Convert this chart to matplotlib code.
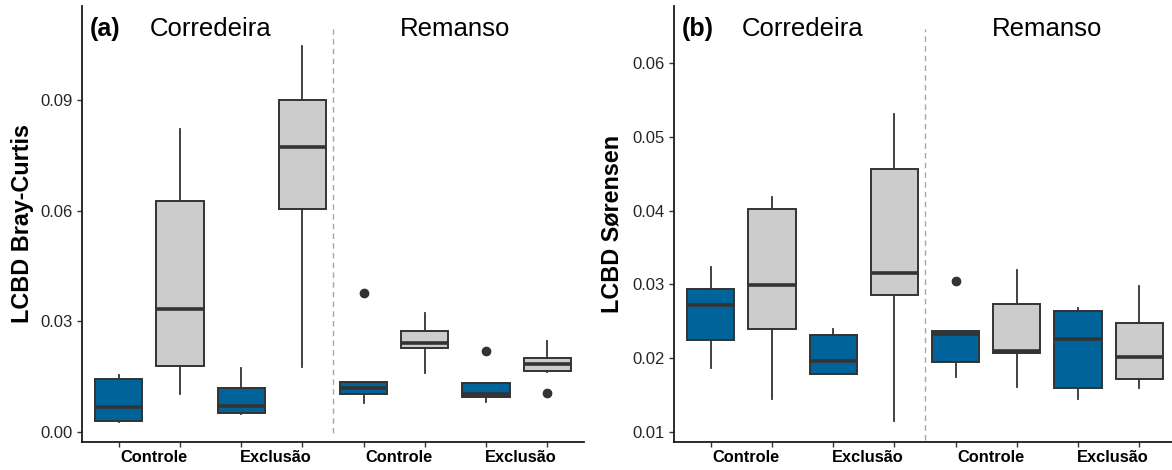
import matplotlib
matplotlib.use("Agg")
import matplotlib.pyplot as plt
import matplotlib.transforms as mtransforms

plt.rcParams['font.family'] = ['Liberation Sans', 'DejaVu Sans']

# ---- data ----
positions = [1, 2, 3, 4, 5, 6, 7, 8]
fill_colors = ['#00649a', '#cccccc'] * 4
group_labels = ['Controle', 'Exclusão', 'Controle', 'Exclusão']
habitat_labels = ['Corredeira', 'Remanso']

# Panel (a) LCBD Bray-Curtis
bc_whislo = [0.0027, 0.0103, 0.0048, 0.0177, 0.0080, 0.0159, 0.0081, 0.0163]
bc_q1     = [0.0031, 0.0180, 0.0051, 0.0604, 0.0102, 0.0227, 0.0096, 0.0165]
bc_med    = [0.0067, 0.0333, 0.0071, 0.0774, 0.0119, 0.0241, 0.0103, 0.0184]
bc_q3     = [0.0143, 0.0627, 0.0119, 0.0900, 0.0135, 0.0274, 0.0134, 0.0200]
bc_whishi = [0.0155, 0.0821, 0.0173, 0.1047, 0.0135, 0.0324, 0.0134, 0.0247]
bc_fliers = [[], [], [], [], [0.0376], [], [0.0220], [0.0105]]

# Panel (b) LCBD Sørensen
so_whislo = [0.0186, 0.0144, 0.0178, 0.0114, 0.0174, 0.0160, 0.0145, 0.0159]
so_q1     = [0.0224, 0.0239, 0.0178, 0.0286, 0.0194, 0.0207, 0.0159, 0.0171]
so_med    = [0.0272, 0.0299, 0.0196, 0.0315, 0.0232, 0.0210, 0.0226, 0.0201]
so_q3     = [0.0294, 0.0402, 0.0231, 0.0456, 0.0236, 0.0273, 0.0264, 0.0247]
so_whishi = [0.0324, 0.0418, 0.0240, 0.0531, 0.0236, 0.0319, 0.0268, 0.0298]
so_fliers = [[], [], [], [], [0.0304], [], [], []]

bc_yticks = [0.00, 0.03, 0.06, 0.09]
so_yticks = [0.01, 0.02, 0.03, 0.04, 0.05, 0.06]

W, H = 1172, 470
fig = plt.figure(figsize=(W / 100, H / 100), dpi=100)

ax_bottom = 1 - 441.7 / H
ax_height = (441.7 - 6) / H
ax_a = fig.add_axes([82 / W, ax_bottom, 502 / W, ax_height])
ax_b = fig.add_axes([674 / W, ax_bottom, 502 / W, ax_height])

edge = '#333333'


def draw_panel(ax, whislo, q1, med, q3, whishi, fliers, yticks, ylim, ylabel, tag, fmt,
               div_bottom, label_x):
    stats = []
    for i in range(len(positions)):
        stats.append(dict(whislo=whislo[i], q1=q1[i], med=med[i], q3=q3[i],
                          whishi=whishi[i], fliers=fliers[i]))
    bp = ax.bxp(stats, positions=positions, widths=0.77, patch_artist=True,
                showcaps=False, manage_ticks=False,
                boxprops=dict(edgecolor=edge, linewidth=1.4),
                medianprops=dict(color=edge, linewidth=2.6, solid_capstyle='butt'),
                whiskerprops=dict(color=edge, linewidth=1.3),
                flierprops=dict(marker='o', markerfacecolor=edge, markeredgecolor=edge,
                                markersize=6))
    for patch, c in zip(bp['boxes'], fill_colors):
        patch.set_facecolor(c)
    ax.set_xlim(0.4, 8.6)
    ax.set_ylim(*ylim)
    ax.set_xticks(positions)
    ax.set_xticklabels([''] * len(positions))
    ax.set_yticks(yticks)
    ax.set_yticklabels([fmt.format(v) for v in yticks])
    ax.tick_params(axis='both', length=3.5, width=1.0, color=edge,
                   labelsize=12, labelcolor='#262626', pad=3)
    for s in ['top', 'right']:
        ax.spines[s].set_visible(False)
    for s in ['left', 'bottom']:
        ax.spines[s].set_linewidth(1.3)
        ax.spines[s].set_color('#1a1a1a')
    ax.set_ylabel(ylabel, fontsize=16.8, fontweight='bold', color='black')
    ax.yaxis.set_label_coords(label_x, 0.5)
    trans = mtransforms.blended_transform_factory(ax.transData, ax.transAxes)
    for xpos, lab in zip([1.57, 3.57, 5.57, 7.57], group_labels):
        ax.text(xpos, -0.037, lab, transform=trans, ha='center', va='center',
                fontsize=11.8, fontweight='bold', color='black')
    ax.plot([4.5, 4.5], [div_bottom, 0.947], transform=trans, color='#a6a6a6',
            linestyle=(0, (4, 3)), linewidth=1.0, clip_on=False)
    ax.text(0.53, 0.947, tag, transform=trans, ha='left', va='center',
            fontsize=18, fontweight='bold', color='black')
    ax.text(2.5, 0.947, habitat_labels[0], transform=trans, ha='center', va='center',
            fontsize=18.5, color='black')
    ax.text(6.5, 0.947, habitat_labels[1], transform=trans, ha='center', va='center',
            fontsize=18.5, color='black')


a_lo = (432 - 441.7) / 3687
a_hi = (432 - 6) / 3687
draw_panel(ax_a, bc_whislo, bc_q1, bc_med, bc_q3, bc_whishi, bc_fliers,
           bc_yticks, (a_lo, a_hi), 'LCBD Bray-Curtis', '(a)', '{:.2f}', 0.02, -0.096)

b_lo = 0.01 + (431.7 - 441.7) / 7368
b_hi = 0.01 + (431.7 - 6) / 7368
draw_panel(ax_b, so_whislo, so_q1, so_med, so_q3, so_whishi, so_fliers,
           so_yticks, (b_lo, b_hi), 'LCBD Sørensen', '(b)', '{:.2f}', 0.004, -0.100)

fig.savefig('out.png', dpi=100)
